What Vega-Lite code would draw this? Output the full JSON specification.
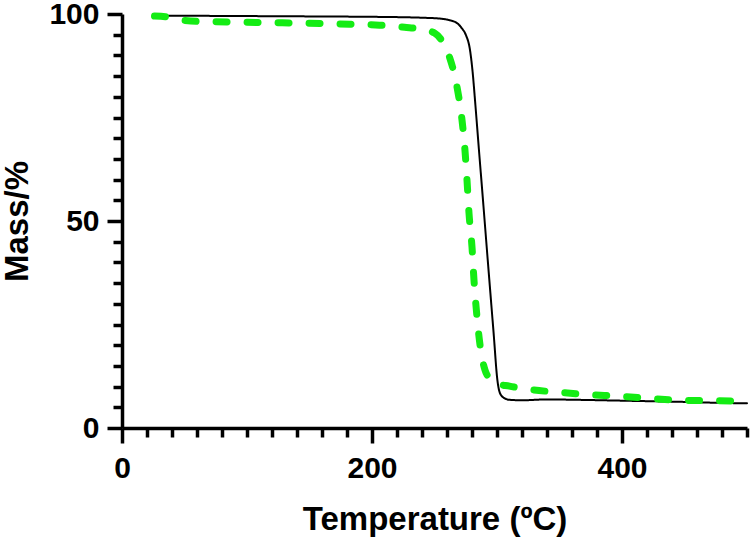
{
  "$schema": "https://vega.github.io/schema/vega-lite/v6.json",
  "width": 625,
  "height": 414,
  "autosize": {"type": "none"},
  "padding": {"left": 122, "top": 14, "right": 3, "bottom": 114},
  "background": "white",
  "config": {
    "view": {"stroke": null},
    "font": "Liberation Sans",
    "axis": {
      "domainColor": "black",
      "domainWidth": 3.5,
      "tickColor": "black",
      "tickWidth": 3.5,
      "grid": false,
      "labelFont": "Liberation Sans",
      "labelFontWeight": "bold",
      "labelFontSize": 30,
      "labelColor": "black",
      "labelOverlap": false,
      "labelFlush": false,
      "titleFont": "Liberation Sans",
      "titleFontWeight": "bold",
      "titleFontSize": 33,
      "titleColor": "black"
    }
  },
  "data": {
    "values": [
      {"series": "S1", "T": 36, "mass": 99.6},
      {"series": "S1", "T": 100, "mass": 99.5},
      {"series": "S1", "T": 160, "mass": 99.4},
      {"series": "S1", "T": 206, "mass": 99.3},
      {"series": "S1", "T": 240, "mass": 99.1},
      {"series": "S1", "T": 254, "mass": 98.9},
      {"series": "S1", "T": 262, "mass": 98.5},
      {"series": "S1", "T": 268, "mass": 97.8},
      {"series": "S1", "T": 272, "mass": 96.5},
      {"series": "S1", "T": 275, "mass": 95.0},
      {"series": "S1", "T": 278.4, "mass": 91.3},
      {"series": "S1", "T": 280.5, "mass": 86.0},
      {"series": "S1", "T": 282.4, "mass": 79.2},
      {"series": "S1", "T": 285.6, "mass": 67.0},
      {"series": "S1", "T": 288.8, "mass": 55.0},
      {"series": "S1", "T": 293.0, "mass": 39.0},
      {"series": "S1", "T": 297.3, "mass": 22.9},
      {"series": "S1", "T": 300.3, "mass": 11.6},
      {"series": "S1", "T": 302.4, "mass": 8.4},
      {"series": "S1", "T": 306, "mass": 7.2},
      {"series": "S1", "T": 310.4, "mass": 6.8},
      {"series": "S1", "T": 320, "mass": 6.7},
      {"series": "S1", "T": 340, "mass": 6.9},
      {"series": "S1", "T": 366, "mass": 6.8},
      {"series": "S1", "T": 400, "mass": 6.6},
      {"series": "S1", "T": 450, "mass": 6.3},
      {"series": "S1", "T": 494, "mass": 6.0},
      {"series": "S1", "T": 500, "mass": 6.0},
      {"series": "S2", "T": 26, "mass": 99.5},
      {"series": "S2", "T": 36, "mass": 99.3},
      {"series": "S2", "T": 46, "mass": 98.6},
      {"series": "S2", "T": 55, "mass": 98.3},
      {"series": "S2", "T": 100, "mass": 98.0},
      {"series": "S2", "T": 174, "mass": 97.6},
      {"series": "S2", "T": 206, "mass": 97.3},
      {"series": "S2", "T": 226, "mass": 96.8},
      {"series": "S2", "T": 240, "mass": 96.3},
      {"series": "S2", "T": 250, "mass": 95.4},
      {"series": "S2", "T": 256, "mass": 93.5},
      {"series": "S2", "T": 262, "mass": 89.6},
      {"series": "S2", "T": 268, "mass": 82.4},
      {"series": "S2", "T": 272, "mass": 74.4},
      {"series": "S2", "T": 274.4, "mass": 67.0},
      {"series": "S2", "T": 276, "mass": 59.9},
      {"series": "S2", "T": 277.6, "mass": 51.9},
      {"series": "S2", "T": 280, "mass": 43.7},
      {"series": "S2", "T": 281.6, "mass": 35.7},
      {"series": "S2", "T": 284, "mass": 26.8},
      {"series": "S2", "T": 287, "mass": 18.8},
      {"series": "S2", "T": 290.4, "mass": 14.0},
      {"series": "S2", "T": 294, "mass": 12.0},
      {"series": "S2", "T": 298.4, "mass": 10.9},
      {"series": "S2", "T": 310, "mass": 10.1},
      {"series": "S2", "T": 324, "mass": 9.4},
      {"series": "S2", "T": 350, "mass": 8.6},
      {"series": "S2", "T": 400, "mass": 7.6},
      {"series": "S2", "T": 449, "mass": 6.7},
      {"series": "S2", "T": 494, "mass": 6.5},
      {"series": "S2", "T": 500, "mass": 6.4}
    ]
  },
  "mark": {"type": "line", "interpolate": "monotone", "strokeCap": "round", "clip": false},
  "encoding": {
    "x": {
      "field": "T",
      "type": "quantitative",
      "scale": {"domain": [0, 500], "nice": false, "zero": false},
      "axis": {
        "title": "Temperature (ºC)",
        "values": [0, 20, 40, 60, 80, 100, 120, 140, 160, 180, 200, 220, 240, 260, 280, 300, 320, 340, 360, 380, 400, 420, 440, 460, 480, 500],
        "labelExpr": "datum.value % 200 === 0 ? datum.label : ''",
        "tickSize": {"condition": {"test": "datum.value % 200 === 0", "value": 15}, "value": 9},
        "labelPadding": 10,
        "titlePadding": 20
      }
    },
    "y": {
      "field": "mass",
      "type": "quantitative",
      "scale": {"domain": [0, 100], "nice": false},
      "axis": {
        "title": "Mass/%",
        "values": [0, 5, 10, 15, 20, 25, 30, 35, 40, 45, 50, 55, 60, 65, 70, 75, 80, 85, 90, 95, 100],
        "labelExpr": "datum.value % 50 === 0 ? datum.label : ''",
        "tickSize": {"condition": {"test": "datum.value % 50 === 0", "value": 15}, "value": 9},
        "labelPadding": 8,
        "titlePadding": 14
      }
    },
    "color": {
      "field": "series",
      "type": "nominal",
      "scale": {"domain": ["S1", "S2"], "range": ["#000000", "#14ec14"]},
      "legend": null
    },
    "strokeDash": {
      "field": "series",
      "type": "nominal",
      "scale": {"domain": ["S1", "S2"], "range": [[1, 0], [11, 20]]},
      "legend": null
    },
    "strokeWidth": {
      "field": "series",
      "type": "nominal",
      "scale": {"domain": ["S1", "S2"], "range": [2, 7]},
      "legend": null
    }
  }
}
